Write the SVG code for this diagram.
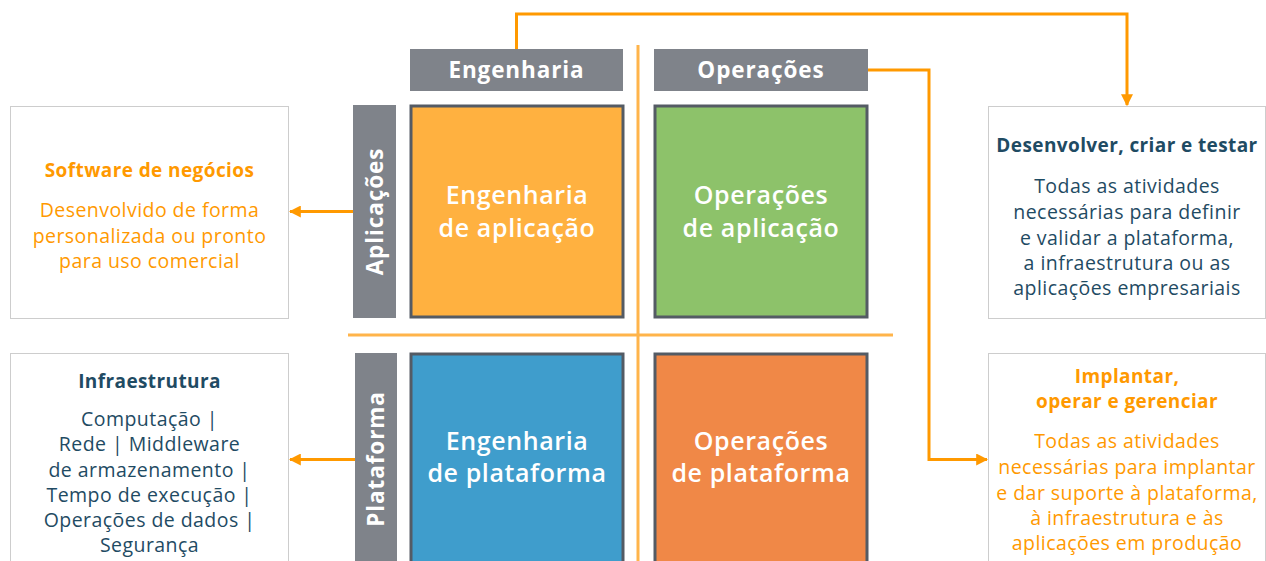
<svg xmlns="http://www.w3.org/2000/svg" width="1266" height="561" viewBox="0 0 1266 561">
<defs>
<marker id="ah" viewBox="0 0 10 10" refX="9" refY="5" markerWidth="4" markerHeight="4" orient="auto" markerUnits="strokeWidth"><path d="M0,0 L10,5 L0,10 z" fill="#ff9900"/></marker>
<style>
text{font-family:"Open Sans","Noto Sans",sans-serif;text-anchor:middle}
.box{fill:#fff;stroke:#9a9a9a;stroke-width:1;stroke-dasharray:1 1}
.hdr{fill:#7f838a}
.hdrt{fill:#fff;font-size:22.5px;font-weight:700;letter-spacing:0.9px}
.q{stroke:#545b64;stroke-width:3}
.qt{fill:#fff;font-size:25px;font-weight:600;letter-spacing:0.6px}
.tt{font-size:19px;font-weight:700;letter-spacing:0.4px}
.bt{font-size:19.5px;letter-spacing:0.45px}
.dk{fill:#1f4b63}
.or{fill:#ff9900}
.conn{fill:none;stroke:#ff9900;stroke-width:3;marker-end:url(#ah)}
.grid{stroke:#ffb44a;stroke-width:3}
</style>
</defs>
<g id="grid">
<line class="grid" x1="638" y1="45" x2="638" y2="561"/>
<line class="grid" x1="348" y1="335" x2="893" y2="335"/>
</g>
<g id="hdr-eng"><rect class="hdr" x="410" y="49" width="213" height="42"/><text class="hdrt" x="516.5" y="78">Engenharia</text></g>
<g id="hdr-ops"><rect class="hdr" x="654" y="49" width="214" height="42"/><text class="hdrt" x="761" y="78">Operações</text></g>
<g id="side-app"><rect class="hdr" x="353" y="105" width="43" height="213"/><text class="hdrt" transform="translate(383,211.5) rotate(-90)">Aplicações</text></g>
<g id="side-plat"><rect class="hdr" x="355" y="353" width="42" height="210"/><text class="hdrt" transform="translate(384,459) rotate(-90)">Plataforma</text></g>
<g id="q-eng-app"><rect class="q" x="411" y="106" width="212" height="211" fill="#ffb140"/><text class="qt" x="517" y="204">Engenharia</text><text class="qt" x="517" y="237">de aplicação</text></g>
<g id="q-ops-app"><rect class="q" x="655" y="106" width="212" height="211" fill="#8dc26a"/><text class="qt" x="761" y="204">Operações</text><text class="qt" x="761" y="237">de aplicação</text></g>
<g id="q-eng-plat"><rect class="q" x="411" y="354" width="212" height="212" fill="#3f9dcc"/><text class="qt" x="517" y="450">Engenharia</text><text class="qt" x="517" y="482">de plataforma</text></g>
<g id="q-ops-plat"><rect class="q" x="655" y="354" width="212" height="212" fill="#f08847"/><text class="qt" x="761" y="450">Operações</text><text class="qt" x="761" y="482">de plataforma</text></g>
<g id="box-software"><rect class="box" x="10.5" y="106.5" width="278" height="212"/>
<text class="tt or" x="149.5" y="177">Software de negócios</text>
<text class="bt or" x="149.5" y="217">Desenvolvido de forma</text>
<text class="bt or" x="149.5" y="243">personalizada ou pronto</text>
<text class="bt or" x="149.5" y="268">para uso comercial</text></g>
<g id="box-infra"><rect class="box" x="10.5" y="353.5" width="278" height="212"/>
<text class="tt dk" x="149.5" y="388">Infraestrutura</text>
<text class="bt dk" x="149.5" y="426">Computação |</text>
<text class="bt dk" x="149.5" y="451">Rede | Middleware</text>
<text class="bt dk" x="149.5" y="477">de armazenamento |</text>
<text class="bt dk" x="149.5" y="502">Tempo de execução |</text>
<text class="bt dk" x="149.5" y="527">Operações de dados |</text>
<text class="bt dk" x="149.5" y="552">Segurança</text></g>
<g id="box-dev"><rect class="box" x="988.5" y="106.5" width="277" height="212"/>
<text class="tt dk" x="1127" y="152">Desenvolver, criar e testar</text>
<text class="bt dk" x="1127" y="193">Todas as atividades</text>
<text class="bt dk" x="1127" y="219">necessárias para definir</text>
<text class="bt dk" x="1127" y="245">e validar a plataforma,</text>
<text class="bt dk" x="1127" y="270">a infraestrutura ou as</text>
<text class="bt dk" x="1127" y="295">aplicações empresariais</text></g>
<g id="box-ops"><rect class="box" x="988.5" y="353.5" width="277" height="212"/>
<text class="tt or" x="1127" y="383">Implantar,</text>
<text class="tt or" x="1127" y="408">operar e gerenciar</text>
<text class="bt or" x="1127" y="448">Todas as atividades</text>
<text class="bt or" x="1127" y="474">necessárias para implantar</text>
<text class="bt or" x="1127" y="500">e dar suporte à plataforma,</text>
<text class="bt or" x="1127" y="525">à infraestrutura e às</text>
<text class="bt or" x="1127" y="550">aplicações em produção</text></g>
<g id="connectors">
<path class="conn" d="M516.5,49 V14 H1127 V105"/>
<path class="conn" d="M868,70 H929 V459.5 H987"/>
<path class="conn" d="M353,211.5 H290"/>
<path class="conn" d="M355,459.5 H290"/>
</g>
</svg>
